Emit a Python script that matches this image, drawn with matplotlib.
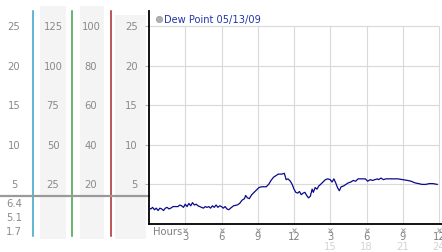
import matplotlib
matplotlib.use("Agg")
import matplotlib.pyplot as plt
import numpy as np

# dew point readings (hour of day, degrees)
HOURS = [0.0, 0.15, 0.3, 0.45, 0.6, 0.75, 0.9, 1.05, 1.2, 1.35, 1.5, 1.65, 1.8,
         2.0, 2.2, 2.4, 2.55, 2.7, 2.85, 3.0, 3.15, 3.3, 3.45, 3.6, 3.75, 3.9,
         4.05, 4.2, 4.35, 4.5, 4.65, 4.8, 4.95, 5.1, 5.25, 5.4, 5.55, 5.7, 5.85,
         6.0, 6.15, 6.3, 6.45, 6.6, 6.75, 7.0, 7.3, 7.5, 7.7, 7.9, 8.0, 8.15,
         8.3, 8.5, 8.7, 8.9, 9.1, 9.3, 9.5, 9.7, 9.9, 10.1, 10.3, 10.5, 10.7,
         11.0, 11.2, 11.35, 11.5, 11.7, 11.85, 12.0, 12.15, 12.3, 12.45, 12.6,
         12.75, 12.9, 13.05, 13.2, 13.35, 13.5, 13.6, 13.75, 13.9, 14.05, 14.2,
         14.4, 14.6, 14.8, 15.0, 15.15, 15.3, 15.45, 15.6, 15.75, 15.9, 16.1,
         16.3, 16.5, 16.7, 16.9, 17.1, 17.3, 17.6, 17.9, 18.1, 18.3, 18.5, 18.7,
         18.9, 19.0, 19.2, 19.4, 19.6, 19.8, 20.2, 20.6, 21.0, 21.4, 21.7, 22.0,
         22.3, 22.6, 22.9, 23.2, 23.5, 23.85]
DEW = [2.0, 1.9, 2.1, 1.8, 2.0, 1.7, 2.0, 1.9, 1.7, 2.0, 2.1, 1.9, 2.0,
       2.2, 2.2, 2.2, 2.4, 2.3, 2.1, 2.5, 2.2, 2.6, 2.3, 2.7, 2.4, 2.5,
       2.3, 2.2, 2.1, 2.0, 2.2, 2.1, 2.2, 2.0, 2.3, 2.1, 2.4, 2.1, 2.3,
       2.2, 2.0, 2.2, 1.9, 1.8, 2.0, 2.3, 2.4, 2.6, 3.0, 3.2, 3.6, 3.3,
       3.2, 3.7, 4.0, 4.3, 4.6, 4.7, 4.7, 4.7, 5.0, 5.5, 5.9, 6.1, 6.3,
       6.3, 6.4, 5.6, 5.7, 5.4, 5.0, 4.4, 4.0, 3.9, 4.1, 3.7,
       3.9, 4.0, 3.6, 3.3, 3.5, 4.4, 4.0, 4.6, 4.4, 4.8, 5.0,
       5.3, 5.6, 5.7, 5.6, 5.3, 5.7, 5.2, 4.6, 4.2, 4.7, 4.8,
       5.0, 5.2, 5.3, 5.5, 5.4, 5.7, 5.7, 5.7, 5.4, 5.6, 5.5, 5.6,
       5.7, 5.6, 5.8, 5.6, 5.7, 5.7, 5.7, 5.7, 5.6, 5.5, 5.4, 5.2,
       5.1, 5.0, 5.0, 5.1, 5.1, 5.0]

Y_LEVELS = [25, 20, 15, 10, 5]
COL1_LABELS = ["25", "20", "15", "10", "5"]
COL2_LABELS = ["125", "100", "75", "50", "25"]
COL3_LABELS = ["100", "80", "60", "40", "20"]
COL4_LABELS = ["25", "20", "15", "10", "5"]
EXTRA_LABELS = ["6.4", "5.1", "1.7"]
X_TICKS = [3, 6, 9, 12, 15, 18, 21, 24]
X_LABELS = ["3", "6", "9", "12", "3", "6", "9", "12"]
X_LABELS2 = ["15", "18", "21", "24"]
TITLE = "Dew Point 05/13/09"

W, H = 442, 253
PX = 7.92          # pixels per unit on the value scale
Y0 = 225           # pixel row of value 0


def v(py):
    # pixel row -> value on the shared vertical scale
    return (Y0 - py) / PX


fig = plt.figure(figsize=(W / 100, H / 100), dpi=100)
fig.patch.set_facecolor("white")

# overlay for the side columns, x in pixels, y in values
bg = fig.add_axes([0, 0, 1, 1], zorder=0)
bg.set_xlim(0, W)
bg.set_ylim(v(H), v(0))
bg.axis("off")

for x0, x1, top in [(40, 66, 7), (80, 104, 7), (115, 146, 16)]:
    bg.fill_between([x0, x1], v(240), v(top), color="#f4f4f4", lw=0)
for xl, c in [(33, "#35a2c6"), (72, "#3ea043"), (111, "#a82828")]:
    bg.plot([xl, xl], [v(237), v(12)], color=c, lw=1.1)
bg.plot([0, 149], [v(197), v(197)], color="#9a9a9a", lw=1.6)

fs = 7.2
lc = "#8a8a8a"
for lv, a, b, c, d in zip(Y_LEVELS, COL1_LABELS, COL2_LABELS, COL3_LABELS, COL4_LABELS):
    bg.text(14, lv, a, ha="center", va="center", fontsize=fs, color=lc)
    bg.text(53, lv, b, ha="center", va="center", fontsize=fs, color=lc)
    bg.text(91, lv, c, ha="center", va="center", fontsize=fs, color=lc)
    bg.text(138, lv, d, ha="right", va="center", fontsize=fs, color=lc)
for py, t in zip([204, 218, 232], EXTRA_LABELS):
    bg.text(14, v(py), t, ha="center", va="center", fontsize=fs, color=lc)

# legend marker and title
bg.plot([159], [v(20)], "o", ms=4.5, color="#b0b0b0", mec="#999999", mew=0.5)
bg.text(164, v(20), TITLE, ha="left", va="center", fontsize=7.1, color="#2436a8")

# main chart
ax = fig.add_axes([149 / W, (H - Y0) / H, (W - 149) / W, (Y0 - 12) / H],
                  zorder=1)
ax.set_facecolor("none")
ax.set_xlim(0, 24 * (W - 149) / (439 - 149))
ax.set_ylim(0, v(12))
ax.hlines(Y_LEVELS, 0, 24, color="#d9d9d9", lw=0.8, zorder=1)
ax.vlines(X_TICKS, 0, 25, color="#d9d9d9", lw=0.8, zorder=1)
ax.plot(HOURS, DEW, color="#0a0a8a", lw=0.9, zorder=3)

for s in ["top", "right"]:
    ax.spines[s].set_visible(False)
ax.spines["left"].set_linewidth(1.3)
ax.spines["bottom"].set_linewidth(1.3)
ax.set_yticks(Y_LEVELS)
ax.set_yticklabels([])
ax.tick_params(axis="y", length=3, width=0.8, color="#b0b0b0", direction="out")
ax.set_xticks([])

ax.text(0.35, v(232), "Hours", ha="left", va="center", fontsize=fs, color="#808080")
ax.plot(X_TICKS, [v(231)] * len(X_TICKS), "x", ms=2.2, mew=0.7,
        color="#a0a0a0", clip_on=False)
for xt, t in zip(X_TICKS, X_LABELS):
    ax.text(xt, v(237.5), t, ha="center", va="center", fontsize=fs, color="#808080")
for xt, t in zip(X_TICKS[4:], X_LABELS2):
    ax.text(xt, v(247), t, ha="center", va="center", fontsize=fs, color="#d4d4d4")

fig.savefig("out.png", dpi=100, facecolor="white")
